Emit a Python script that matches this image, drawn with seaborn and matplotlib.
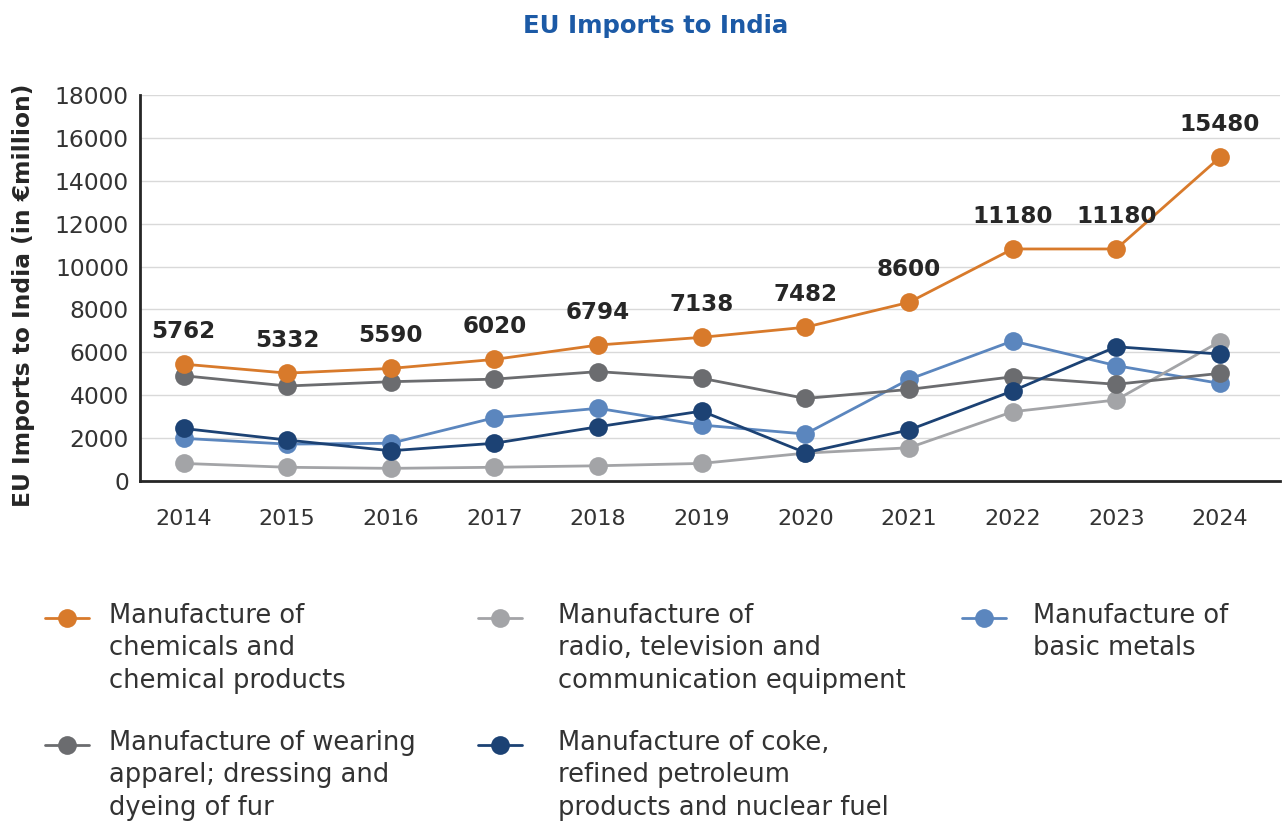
import numpy as np
import pandas as pd
import matplotlib
matplotlib.use("Agg")
import matplotlib.pyplot as plt
import seaborn as sns
from matplotlib.lines import Line2D
from matplotlib.legend_handler import HandlerLine2D
from matplotlib.transforms import Affine2D

years = ["2014", "2015", "2016", "2017", "2018", "2019", "2020", "2021", "2022", "2023", "2024"]

chemicals = [5450, 5030, 5250, 5670, 6340, 6700, 7170, 8330, 10820, 10820, 15090]
radio_tv = [820, 640, 590, 640, 710, 820, 1300, 1550, 3230, 3780, 6500]
basic_metals = [1990, 1720, 1760, 2950, 3390, 2610, 2190, 4740, 6530, 5380, 4550]
apparel = [4910, 4430, 4630, 4750, 5100, 4790, 3850, 4270, 4860, 4510, 5020]
coke_petroleum = [2450, 1910, 1410, 1760, 2530, 3260, 1320, 2380, 4200, 6260, 5920]

# labels printed over the chemicals series
chem_labels = ["5762", "5332", "5590", "6020", "6794", "7138", "7482", "8600", "11180", "11180", "15480"]

names = {
    "chem": "Manufacture of\nchemicals and\nchemical products",
    "apparel": "Manufacture of wearing\napparel; dressing and\ndyeing of fur",
    "radio": "Manufacture of\nradio, television and\ncommunication equipment",
    "coke": "Manufacture of coke,\nrefined petroleum\nproducts and nuclear fuel",
    "metals": "Manufacture of\nbasic metals",
}
colors = {"chem": "#D87A2B", "apparel": "#6B6C6F", "radio": "#A3A4A7",
          "coke": "#1C4274", "metals": "#5B86BE"}
series = {"chem": chemicals, "apparel": apparel, "radio": radio_tv,
          "coke": coke_petroleum, "metals": basic_metals}
draw_order = ["metals", "radio", "apparel", "coke", "chem"]

rows = []
for key in draw_order:
    for i, v in enumerate(series[key]):
        rows.append({"x": i, "value": v, "series": key})
df = pd.DataFrame(rows)

sns.set_style("white")
plt.rcParams["font.family"] = ["DejaVu Sans"]

fig = plt.figure(figsize=(12.86, 8.22), dpi=100)
ax = fig.add_axes([140 / 1286, 1 - 481 / 822, 1140 / 1286, 386 / 822])

sns.lineplot(data=df, x="x", y="value", hue="series", hue_order=draw_order,
             palette=colors, marker="o", markersize=13.5, markeredgewidth=0,
             linewidth=2, legend=False, ax=ax, zorder=3)

ax.set_xlim(-0.42, 10.58)
ax.set_ylim(0, 18000)
ax.set_yticks(np.arange(0, 18001, 2000))
ax.set_xticks(range(len(years)))
ax.set_xticklabels(years)
ax.tick_params(axis="both", length=0, labelcolor="#333333")
ax.tick_params(axis="x", pad=20, labelsize=16)
ax.tick_params(axis="y", pad=8, labelsize=16.8)
ax.grid(axis="y", color="#D9D9D9", linewidth=1)
ax.set_axisbelow(True)
for s in ["top", "right"]:
    ax.spines[s].set_visible(False)
for s in ["left", "bottom"]:
    ax.spines[s].set_color("#262626")
    ax.spines[s].set_linewidth(2)
ax.set_xlabel("")
ax.set_ylabel("EU Imports to India (in \u20acmillion)", fontsize=16.8,
              fontweight="bold", color="#262626")
ax.yaxis.set_label_coords(-0.0925, 0.48)

for i, (v, lab) in enumerate(zip(chemicals, chem_labels)):
    ax.annotate(lab, (i, v), xytext=(0, 23.5), textcoords="offset points",
                ha="center", va="center", fontsize=16.6, fontweight="bold",
                color="#262626")

fig.text(656 / 1286, 1 - 26 / 822, "EU Imports to India", ha="center", va="center",
         fontsize=17.6, fontweight="bold", color="#1C5AA6")


class TopLine(HandlerLine2D):
    def __init__(self, shift, **kw):
        super().__init__(**kw)
        self.shift = shift

    def create_artists(self, legend, orig_handle, xdescent, ydescent, width,
                       height, fontsize, trans):
        arts = super().create_artists(legend, orig_handle, xdescent, ydescent,
                                      width, height, fontsize, trans)
        t = trans + Affine2D().translate(0, self.shift)
        for a in arts:
            a.set_transform(t)
        return arts


line_of = {k: ax.lines[i] for i, k in enumerate(draw_order)}
legend_cols = [(["chem", "apparel"], 45, 31, 0.78),
               (["radio", "coke"], 478, 31, 1.4),
               (["metals"], 962, 15.5, 1.05)]
for keys, xpix, shift, tpad in legend_cols:
    leg = fig.legend([line_of[k] for k in keys], [names[k] for k in keys],
                     loc="upper left", bbox_to_anchor=(xpix / 1286, 1 - 603 / 822),
                     frameon=False, fontsize=18.5, handlelength=1.7,
                     handletextpad=tpad, labelspacing=1.4, borderpad=0,
                     borderaxespad=0, handler_map={Line2D: TopLine(shift)})
    for t in leg.get_texts():
        t.set_color("#333333")
        t.set_linespacing(1.32)

fig.savefig("out.png", dpi=100)
